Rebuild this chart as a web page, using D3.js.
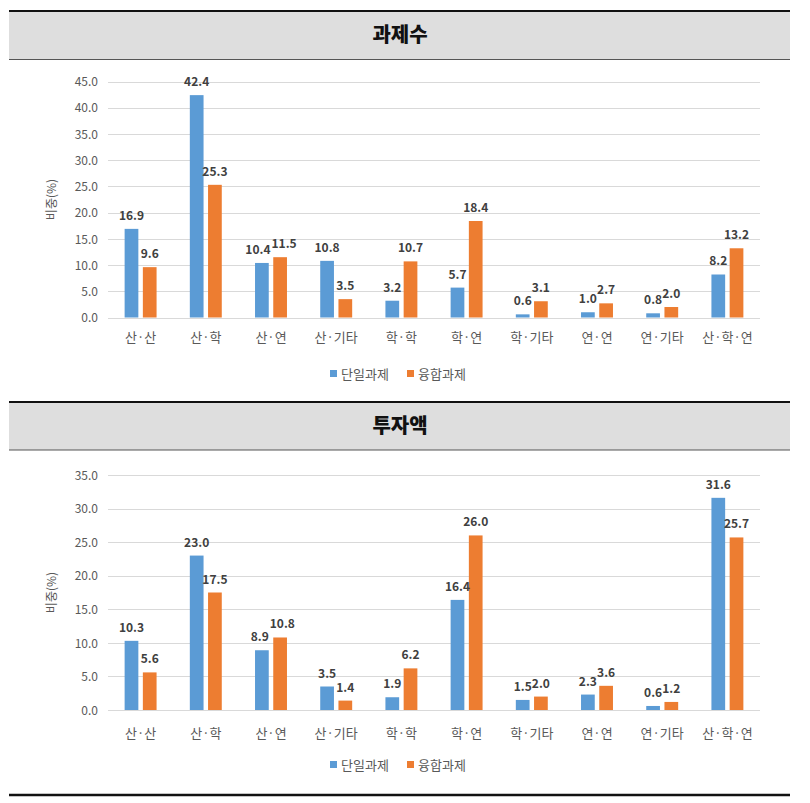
<!DOCTYPE html>
<html>
<head>
<meta charset="utf-8">
<script src="https://cdn.jsdelivr.net/npm/d3@7"></script>
<style>
  html, body { margin: 0; padding: 0; background: #fff; }
  svg { display: block; }
</style>
</head>
<body>
<svg id="chart" width="810" height="803"></svg>
<script>
// ---- data ----
const categories = ["산·산", "산·학", "산·연", "산·기타", "학·학", "학·연", "학·기타", "연·연", "연·기타", "산·학·연"];
const seriesNames = ["단일과제", "융합과제"];
const seriesColors = ["#5B9BD5", "#ED7D31"];
const countSingle = [16.9, 42.4, 10.4, 10.8, 3.2, 5.7, 0.6, 1.0, 0.8, 8.2];
const countFusion = [9.6, 25.3, 11.5, 3.5, 10.7, 18.4, 3.1, 2.7, 2.0, 13.2];
const investSingle = [10.3, 23.0, 8.9, 3.5, 1.9, 16.4, 1.5, 2.3, 0.6, 31.6];
const investFusion = [5.6, 17.5, 10.8, 1.4, 6.2, 26.0, 2.0, 3.6, 1.2, 25.7];
const countTicks = [0, 5, 10, 15, 20, 25, 30, 35, 40, 45];
const investTicks = [0, 5, 10, 15, 20, 25, 30, 35];
const titles = ["과제수", "투자액"];
const yLabel = "비중(%)";

const svg = d3.select("#chart");
const KR = "'Noto Sans CJK KR', 'Noto Sans', sans-serif";

function header(top, bottom, title) {
  svg.append("rect").attr("x", 9).attr("y", top).attr("width", 781).attr("height", bottom - top)
    .attr("fill", "#dedede");
  svg.append("line").attr("x1", 9).attr("x2", 790).attr("y1", top).attr("y2", top)
    .attr("stroke", "#111").attr("stroke-width", 2);
  svg.append("line").attr("x1", 9).attr("x2", 790).attr("y1", bottom).attr("y2", bottom)
    .attr("stroke", "#555").attr("stroke-width", 1.2);
  svg.append("text").attr("x", 400).attr("y", (top + bottom) / 2 + 7)
    .attr("text-anchor", "middle").attr("font-family", KR).attr("font-weight", 900)
    .attr("font-size", 20).attr("fill", "#111").text(title);
}

function chart(cfg) {
  const x0 = d3.scaleBand().domain(categories).range([108, 760]).paddingInner(0.51).paddingOuter(0.255);
  const x1 = d3.scaleBand().domain(seriesNames).range([0, x0.bandwidth()]).paddingInner(0.247);
  const y = d3.scaleLinear().domain([0, cfg.max]).range([cfg.y0, cfg.yTop]);

  const g = svg.append("g");
  // gridlines
  g.selectAll(".grid").data(cfg.ticks).join("line")
    .attr("x1", 108).attr("x2", 760)
    .attr("y1", d => Math.round(y(d)) + 0.5).attr("y2", d => Math.round(y(d)) + 0.5)
    .attr("stroke", "#d9d9d9").attr("stroke-width", 1);

  // y axis labels
  const yAxis = d3.axisLeft(y).tickValues(cfg.ticks).tickFormat(d3.format(".1f")).tickSize(0).tickPadding(0);
  const ya = g.append("g").attr("transform", "translate(98,0)").call(yAxis);
  ya.select(".domain").remove();
  ya.selectAll("text").attr("font-family", KR).attr("font-size", 12).attr("fill", "#595959")
    .attr("dy", "0.35em");

  // y title
  g.append("text").attr("transform", `translate(56,${(cfg.y0 + cfg.yTop) / 2}) rotate(-90)`)
    .attr("text-anchor", "middle").attr("font-family", KR).attr("font-size", 12).attr("fill", "#595959")
    .text(yLabel);

  // x axis labels
  const xAxis = d3.axisBottom(x0).tickSize(0).tickPadding(0);
  const xa = g.append("g").attr("transform", `translate(0,${cfg.catY})`).call(xAxis);
  xa.select(".domain").remove();
  xa.selectAll("text").attr("font-family", KR).attr("font-size", 13).attr("fill", "#595959")
    .attr("dy", "0.35em");

  // bars
  const data = categories.map((c, i) => ({ c, vals: [cfg.s1[i], cfg.s2[i]] }));
  const grp = g.selectAll(".grp").data(data).join("g")
    .attr("transform", d => `translate(${x0(d.c)},0)`);
  grp.selectAll("rect").data(d => d.vals.map((v, k) => ({ v, k }))).join("rect")
    .attr("x", d => x1(seriesNames[d.k]))
    .attr("width", x1.bandwidth())
    .attr("y", d => y(d.v))
    .attr("height", d => y(0) - y(d.v))
    .attr("fill", d => seriesColors[d.k]);
  grp.each(function () {
    const labels = d3.select(this).selectAll("text").data(d => d.vals.map((v, k) => ({ v, k }))).join("text")
      .attr("x", d => x1(seriesNames[d.k]) + x1.bandwidth() / 2)
      .attr("y", d => y(d.v) - 9)
      .attr("text-anchor", "middle").attr("font-family", KR).attr("font-weight", "bold")
      .attr("font-size", 12).attr("fill", "#404040")
      .text(d => d3.format(".1f")(d.v));
    // nudge apart labels that collide
    const nodes = labels.nodes();
    const b0 = nodes[0].getBBox(), b1 = nodes[1].getBBox();
    const hOver = (b0.x + b0.width) - b1.x;
    const vOver = Math.min(b0.y + b0.height, b1.y + b1.height) - Math.max(b0.y, b1.y);
    if (hOver > 0 && vOver > 0) {
      const s = hOver / 2 + 0.5;
      d3.select(nodes[0]).attr("x", +nodes[0].getAttribute("x") - s);
      d3.select(nodes[1]).attr("x", +nodes[1].getAttribute("x") + s);
    }
  });

  // legend
  const lg = g.append("g").attr("transform", `translate(0,${cfg.legY})`);
  const lx = [330, 407];
  seriesNames.forEach((s, k) => {
    lg.append("rect").attr("x", lx[k]).attr("y", -4).attr("width", 7).attr("height", 7).attr("fill", seriesColors[k]);
    lg.append("text").attr("x", lx[k] + 11).attr("y", 0).attr("dy", "0.35em")
      .attr("font-family", KR).attr("font-size", 13).attr("fill", "#595959").text(s);
  });
}

header(11, 59.5, titles[0]);
chart({ s1: countSingle, s2: countFusion, max: 45, ticks: countTicks, y0: 317.5, yTop: 81.5, catY: 337, legY: 374 });
header(402, 450, titles[1]);
chart({ s1: investSingle, s2: investFusion, max: 35, ticks: investTicks, y0: 710, yTop: 475, catY: 733, legY: 765 });

svg.append("line").attr("x1", 9).attr("x2", 790).attr("y1", 795).attr("y2", 795)
  .attr("stroke", "#111").attr("stroke-width", 2.5);
</script>
</body>
</html>
